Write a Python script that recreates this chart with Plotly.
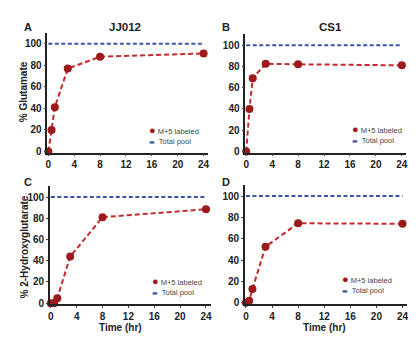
import plotly.graph_objects as go

# Time course of M+5 labeling (hours)
time_hr = [0, 0.5, 1, 3, 8, 24]

glutamate_jj012 = [0, 20, 41, 77, 88, 91]
glutamate_cs1 = [0, 40, 69, 82.5, 82, 81]
hg_jj012 = [0, 0, 4.7, 44, 81, 88.5]
hg_cs1 = [0, 1.8, 13, 52.5, 74.5, 74]

total_pool_x = [0, 24]
total_pool_y = [100, 100]

panel_titles = ["JJ012", "CS1"]
panel_letters = ["A", "B", "C", "D"]
y_titles = ["% Glutamate", "% 2-Hydroxyglutarate"]
x_ticks = [0, 4, 8, 12, 16, 20, 24]
y_ticks = [0, 20, 40, 60, 80, 100]

W, H = 420, 348
RED_LINE = "#c42a2c"
RED_MARK = "#9c1a1c"
BLUE = "#3a55a6"
FONT = "Liberation Sans, Arial, sans-serif"


def px(x):
    return x / W


def py(y):
    return 1 - y / H


# plot-area pixel boxes: (left, right, top, bottom)
boxes = [
    (45.7, 207.6, 33.4, 154.4),
    (245.0, 407.3, 34.9, 154.4),
    (48.2, 210.0, 188.6, 307.8),
    (244.7, 408.0, 187.5, 307.4),
]
series = [glutamate_jj012, glutamate_cs1, hg_jj012, hg_cs1]

fig = go.Figure()
layout = dict(
    width=W, height=H,
    margin=dict(l=0, r=0, t=0, b=0),
    paper_bgcolor="white", plot_bgcolor="white",
    showlegend=False,
    font=dict(family=FONT, color="#222"),
)

for i, (box, vals) in enumerate(zip(boxes, series)):
    n = "" if i == 0 else str(i + 1)
    l, r, t, b = box
    layout["xaxis" + n] = dict(
        domain=[px(l), px(r)], anchor="y" + n, range=[-0.15, 24.7],
        tickvals=x_ticks, ticks="outside", ticklen=2, tickwidth=1.2,
        showline=True, linecolor="#222", linewidth=1.5, showgrid=False,
        zeroline=False,
        tickfont=dict(size=10, family=FONT, color="#222", weight="bold"),
    )
    layout["yaxis" + n] = dict(
        domain=[py(b), py(t)], anchor="x" + n, range=[-1, 110],
        tickvals=y_ticks, ticks="outside", ticklen=2, tickwidth=1.2,
        showline=True, linecolor="#222", linewidth=1.5, showgrid=False,
        zeroline=False,
        tickfont=dict(size=10, family=FONT, color="#222", weight="bold"),
    )
    fig.add_trace(go.Scatter(
        x=total_pool_x, y=total_pool_y, mode="lines",
        line=dict(color=BLUE, width=2, dash="4px,2.5px"),
        xaxis="x" + n, yaxis="y" + n, cliponaxis=False, name="Total pool",
    ))
    fig.add_trace(go.Scatter(
        x=time_hr, y=vals, mode="lines+markers",
        line=dict(color=RED_LINE, width=2, dash="5px,3px"),
        marker=dict(color=RED_MARK, size=8),
        xaxis="x" + n, yaxis="y" + n, cliponaxis=False, name="M+5 labeled",
    ))

fig.update_layout(**layout)

annotations = []
# column titles
for x, title in [(124, panel_titles[0]), (331, panel_titles[1])]:
    annotations.append(dict(
        x=px(x), y=py(27), xref="paper", yref="paper", text=title,
        showarrow=False, xanchor="center", yanchor="middle",
        font=dict(size=11.5, family=FONT, color="#222", weight="bold"),
    ))
# panel letters
for (x, y), letter in zip([(26, 27), (226, 27), (26, 184), (226, 184)], panel_letters):
    annotations.append(dict(
        x=px(x), y=py(y), xref="paper", yref="paper", text=letter,
        showarrow=False, xanchor="center", yanchor="middle",
        font=dict(size=11, family=FONT, color="#222", weight="bold"),
    ))
# y-axis titles
for (x, y), title in zip([(22.5, 93), (22.5, 250)], y_titles):
    annotations.append(dict(
        x=px(x), y=py(y), xref="paper", yref="paper", text=title,
        showarrow=False, textangle=-90, xanchor="center", yanchor="middle",
        font=dict(size=10, family=FONT, color="#222", weight="bold"),
    ))
# x-axis titles
for x in [119, 325]:
    annotations.append(dict(
        x=px(x), y=py(331), xref="paper", yref="paper", text="Time (hr)",
        showarrow=False, xanchor="center", yanchor="middle",
        font=dict(size=10, family=FONT, color="#222", weight="bold"),
    ))
# per-panel legends
legend_text = (
    f"<span style='color:{RED_MARK};font-size:11px'>●</span> M+5 labeled<br>"
    f"<span style='color:{BLUE};font-size:6px;font-family:DejaVu Sans'>▬</span>  Total pool"
)
for x, y in [(146, 136.5), (350, 136), (149, 289.5), (340, 287)]:
    annotations.append(dict(
        x=px(x), y=py(y), xref="paper", yref="paper", text=legend_text,
        showarrow=False, xanchor="left", yanchor="middle", align="left",
        font=dict(size=7.5, family=FONT, color="#444"),
    ))

fig.update_layout(annotations=annotations)
fig.write_html("out.html")
